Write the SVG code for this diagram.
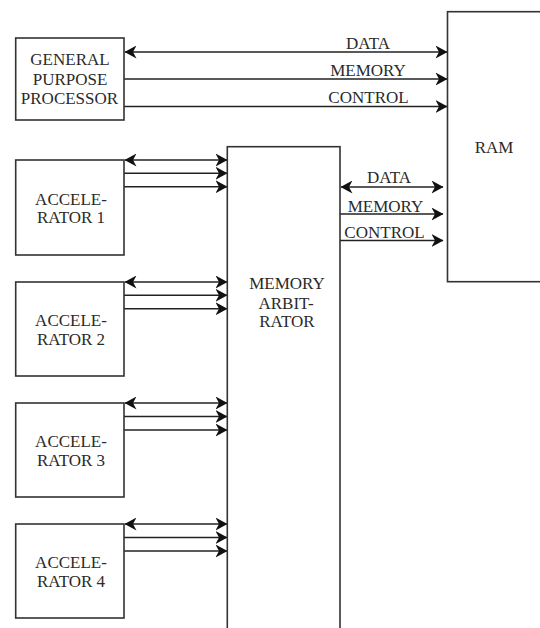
<svg xmlns="http://www.w3.org/2000/svg" width="540" height="628" viewBox="0 0 540 628">
<style>
.box{fill:#fff;stroke:#333;stroke-width:1.6}
.ln{fill:none;stroke:#222;stroke-width:1.6}
.bi{marker-start:url(#ah);marker-end:url(#ah)}
.one{marker-end:url(#ah)}
text{font-family:"Liberation Serif","Times New Roman",serif;font-size:17px;fill:#2a2a2a;text-anchor:middle}
</style>
<defs>
<marker id="ah" viewBox="0 0 12 13" refX="11.5" refY="6.5" markerWidth="12" markerHeight="13" markerUnits="userSpaceOnUse" orient="auto-start-reverse">
<path d="M0,0 L12,6.5 L0,13 L3.5,6.5 Z" fill="#111"/>
</marker>
</defs>
<rect width="540" height="628" fill="#fff"/>
<g id="connectors">
<line class="ln bi" x1="125" y1="52" x2="447" y2="52"/>
<line class="ln one" x1="124" y1="79" x2="447" y2="79"/>
<line class="ln one" x1="124" y1="106.5" x2="447" y2="106.5"/>
<text x="368" y="49">DATA</text>
<text x="368" y="76">MEMORY</text>
<text x="368.5" y="103">CONTROL</text>
<line class="ln bi" x1="341" y1="187" x2="443" y2="187"/>
<line class="ln one" x1="340" y1="214" x2="443" y2="214"/>
<line class="ln one" x1="340" y1="240.5" x2="443" y2="240.5"/>
<text x="389" y="183">DATA</text>
<text x="385.5" y="212">MEMORY</text>
<text x="384.5" y="238">CONTROL</text>
<line class="ln bi" x1="125" y1="160" x2="227" y2="160"/>
<line class="ln one" x1="124" y1="173.3" x2="227" y2="173.3"/>
<line class="ln one" x1="124" y1="186.7" x2="227" y2="186.7"/>
<line class="ln bi" x1="125" y1="282" x2="227" y2="282"/>
<line class="ln one" x1="124" y1="295.3" x2="227" y2="295.3"/>
<line class="ln one" x1="124" y1="308.7" x2="227" y2="308.7"/>
<line class="ln bi" x1="125" y1="403" x2="227" y2="403"/>
<line class="ln one" x1="124" y1="416.5" x2="227" y2="416.5"/>
<line class="ln one" x1="124" y1="430" x2="227" y2="430"/>
<line class="ln bi" x1="125" y1="524" x2="227" y2="524"/>
<line class="ln one" x1="124" y1="537.5" x2="227" y2="537.5"/>
<line class="ln one" x1="124" y1="551" x2="227" y2="551"/>
</g>
<g id="gpp">
<rect class="box" x="15.7" y="38" width="108.3" height="82"/>
<text x="70" y="65">GENERAL</text>
<text x="70" y="84.5">PURPOSE</text>
<text x="69.5" y="104">PROCESSOR</text>
</g>
<g id="ram">
<rect class="box" x="447.5" y="11.7" width="100" height="270"/>
<text x="494" y="153">RAM</text>
</g>
<g id="arbiter">
<rect class="box" x="227.3" y="146.7" width="112.7" height="500"/>
<text x="287" y="289">MEMORY</text>
<text x="286" y="308.5">ARBIT-</text>
<text x="287" y="327">RATOR</text>
</g>
<g id="acc1">
<rect class="box" x="15.7" y="160" width="108.3" height="95"/>
<text x="71" y="205">ACCELE-</text>
<text x="71" y="223">RATOR 1</text>
</g>
<g id="acc2">
<rect class="box" x="15.7" y="282" width="108.3" height="94"/>
<text x="71" y="326">ACCELE-</text>
<text x="71" y="344.5">RATOR 2</text>
</g>
<g id="acc3">
<rect class="box" x="15.7" y="403" width="108.3" height="94"/>
<text x="71" y="447">ACCELE-</text>
<text x="71" y="465.5">RATOR 3</text>
</g>
<g id="acc4">
<rect class="box" x="15.7" y="524" width="108.3" height="94"/>
<text x="71" y="568">ACCELE-</text>
<text x="71" y="586.5">RATOR 4</text>
</g>
</svg>
